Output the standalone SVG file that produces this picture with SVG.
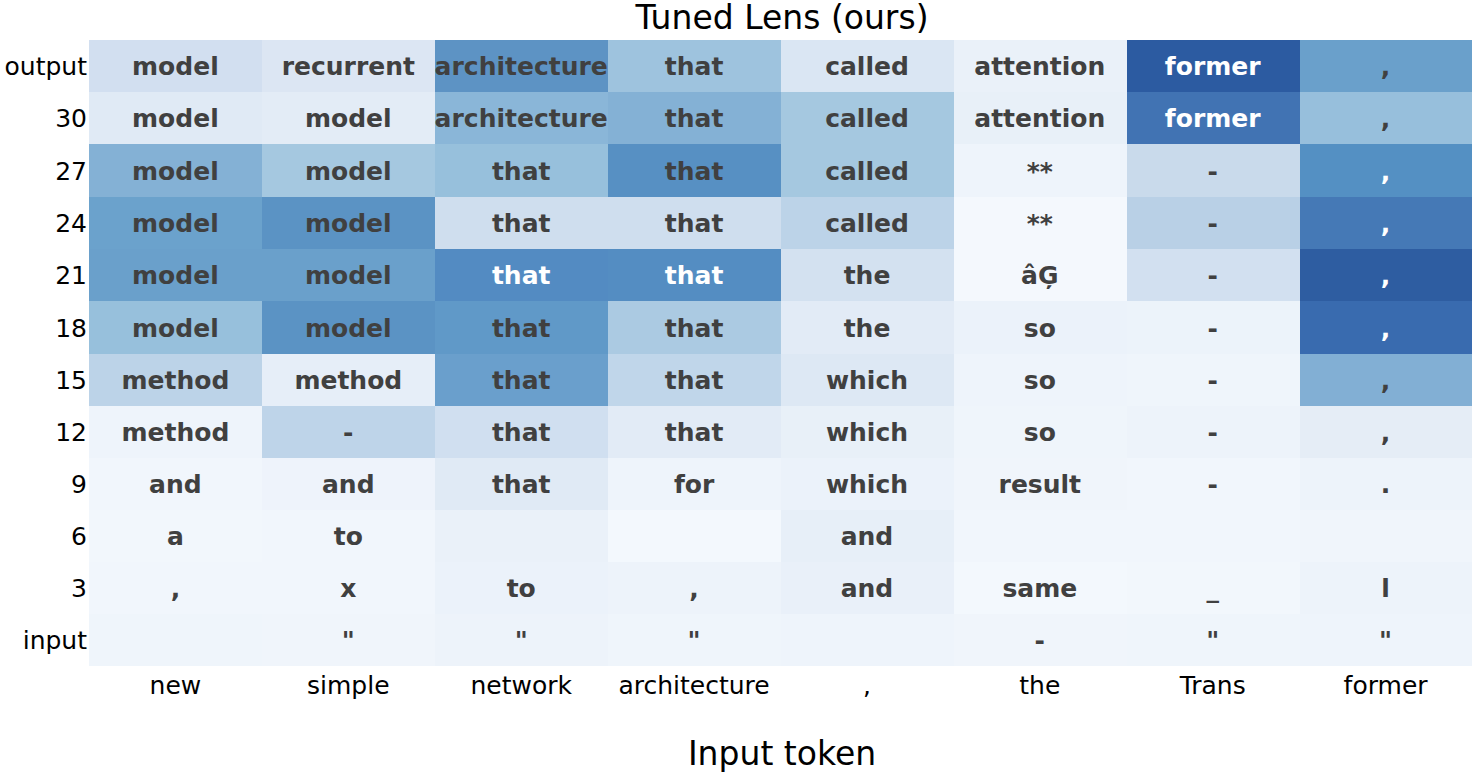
<svg xmlns="http://www.w3.org/2000/svg" width="1482" height="778" viewBox="0 0 1482 778">
<style>
text{font-family:"DejaVu Sans","Liberation Sans",sans-serif}
.c{font-size:25px;font-weight:bold;fill:#404040;text-anchor:middle}
.w{fill:#ffffff}
.yl{font-size:25px;fill:#000;text-anchor:end}
.xl{font-size:25px;fill:#000;text-anchor:middle}
.t{font-size:33px;fill:#000;text-anchor:middle}
</style>
<rect width="1482" height="778" fill="#ffffff"/>
<text class="t" x="782" y="29">Tuned Lens (ours)</text>
<g id="heatmap" shape-rendering="crispEdges">
<g id="row-output">
<rect x="89" y="40" width="173" height="53" fill="#d2dff0"/>
<rect x="262" y="40" width="173" height="53" fill="#dce6f3"/>
<rect x="435" y="40" width="173" height="53" fill="#5d93c4"/>
<rect x="608" y="40" width="173" height="53" fill="#9ec3de"/>
<rect x="781" y="40" width="173" height="53" fill="#dae6f3"/>
<rect x="954" y="40" width="173" height="53" fill="#eaf1f9"/>
<rect x="1127" y="40" width="173" height="53" fill="#2c5ba1"/>
<rect x="1300" y="40" width="172" height="53" fill="#6aa0cb"/>
</g>
<g id="row-30">
<rect x="89" y="92" width="173" height="53" fill="#e0eaf5"/>
<rect x="262" y="92" width="173" height="53" fill="#e3ecf6"/>
<rect x="435" y="92" width="173" height="53" fill="#8ab6d8"/>
<rect x="608" y="92" width="173" height="53" fill="#84b1d5"/>
<rect x="781" y="92" width="173" height="53" fill="#a5c8e0"/>
<rect x="954" y="92" width="173" height="53" fill="#e8f0f8"/>
<rect x="1127" y="92" width="173" height="53" fill="#4173b3"/>
<rect x="1300" y="92" width="172" height="53" fill="#97bfdc"/>
</g>
<g id="row-27">
<rect x="89" y="144" width="173" height="53" fill="#84b1d5"/>
<rect x="262" y="144" width="173" height="53" fill="#a5c8e0"/>
<rect x="435" y="144" width="173" height="53" fill="#97c0dc"/>
<rect x="608" y="144" width="173" height="53" fill="#5790c3"/>
<rect x="781" y="144" width="173" height="53" fill="#a5c8e0"/>
<rect x="954" y="144" width="173" height="53" fill="#eef4fb"/>
<rect x="1127" y="144" width="173" height="53" fill="#c9daeb"/>
<rect x="1300" y="144" width="172" height="53" fill="#5490c3"/>
</g>
<g id="row-24">
<rect x="89" y="197" width="173" height="53" fill="#6ba2cc"/>
<rect x="262" y="197" width="173" height="53" fill="#5b93c4"/>
<rect x="435" y="197" width="173" height="53" fill="#cfdeee"/>
<rect x="608" y="197" width="173" height="53" fill="#cfdeee"/>
<rect x="781" y="197" width="173" height="53" fill="#bcd3e8"/>
<rect x="954" y="197" width="173" height="53" fill="#f4f8fd"/>
<rect x="1127" y="197" width="173" height="53" fill="#b9d0e6"/>
<rect x="1300" y="197" width="172" height="53" fill="#4579b6"/>
</g>
<g id="row-21">
<rect x="89" y="249" width="173" height="53" fill="#6aa0cb"/>
<rect x="262" y="249" width="173" height="53" fill="#6aa0cb"/>
<rect x="435" y="249" width="173" height="53" fill="#538bc2"/>
<rect x="608" y="249" width="173" height="53" fill="#548dc2"/>
<rect x="781" y="249" width="173" height="53" fill="#d3e1f0"/>
<rect x="954" y="249" width="173" height="53" fill="#f4f8fd"/>
<rect x="1127" y="249" width="173" height="53" fill="#d2e0f0"/>
<rect x="1300" y="249" width="172" height="53" fill="#2e5da1"/>
</g>
<g id="row-18">
<rect x="89" y="301" width="173" height="53" fill="#97c0dc"/>
<rect x="262" y="301" width="173" height="53" fill="#5b93c4"/>
<rect x="435" y="301" width="173" height="53" fill="#6099c8"/>
<rect x="608" y="301" width="173" height="53" fill="#abcae2"/>
<rect x="781" y="301" width="173" height="53" fill="#e2ebf6"/>
<rect x="954" y="301" width="173" height="53" fill="#ebf2fa"/>
<rect x="1127" y="301" width="173" height="53" fill="#ecf3fa"/>
<rect x="1300" y="301" width="172" height="53" fill="#396baf"/>
</g>
<g id="row-15">
<rect x="89" y="354" width="173" height="53" fill="#bcd3e8"/>
<rect x="262" y="354" width="173" height="53" fill="#e6eef8"/>
<rect x="435" y="354" width="173" height="53" fill="#6a9fcc"/>
<rect x="608" y="354" width="173" height="53" fill="#c0d6ea"/>
<rect x="781" y="354" width="173" height="53" fill="#dde8f4"/>
<rect x="954" y="354" width="173" height="53" fill="#eef4fb"/>
<rect x="1127" y="354" width="173" height="53" fill="#eff5fb"/>
<rect x="1300" y="354" width="172" height="53" fill="#82afd4"/>
</g>
<g id="row-12">
<rect x="89" y="406" width="173" height="53" fill="#eef4fb"/>
<rect x="262" y="406" width="173" height="53" fill="#bed4e9"/>
<rect x="435" y="406" width="173" height="53" fill="#d0dff0"/>
<rect x="608" y="406" width="173" height="53" fill="#e2ebf6"/>
<rect x="781" y="406" width="173" height="53" fill="#e8f0f8"/>
<rect x="954" y="406" width="173" height="53" fill="#eff5fb"/>
<rect x="1127" y="406" width="173" height="53" fill="#edf3fa"/>
<rect x="1300" y="406" width="172" height="53" fill="#e5edf6"/>
</g>
<g id="row-9">
<rect x="89" y="458" width="173" height="53" fill="#f1f6fc"/>
<rect x="262" y="458" width="173" height="53" fill="#eef3fb"/>
<rect x="435" y="458" width="173" height="53" fill="#e0eaf5"/>
<rect x="608" y="458" width="173" height="53" fill="#eef4fb"/>
<rect x="781" y="458" width="173" height="53" fill="#ebf2fa"/>
<rect x="954" y="458" width="173" height="53" fill="#f0f5fb"/>
<rect x="1127" y="458" width="173" height="53" fill="#f1f6fc"/>
<rect x="1300" y="458" width="172" height="53" fill="#edf3fa"/>
</g>
<g id="row-6">
<rect x="89" y="510" width="173" height="53" fill="#f2f7fc"/>
<rect x="262" y="510" width="173" height="53" fill="#f1f6fc"/>
<rect x="435" y="510" width="173" height="53" fill="#eaf1f9"/>
<rect x="608" y="510" width="173" height="53" fill="#f3f8fd"/>
<rect x="781" y="510" width="173" height="53" fill="#e7eff8"/>
<rect x="954" y="510" width="173" height="53" fill="#f1f6fc"/>
<rect x="1127" y="510" width="173" height="53" fill="#f1f6fc"/>
<rect x="1300" y="510" width="172" height="53" fill="#f0f5fb"/>
</g>
<g id="row-3">
<rect x="89" y="562" width="173" height="53" fill="#f1f6fc"/>
<rect x="262" y="562" width="173" height="53" fill="#f1f6fc"/>
<rect x="435" y="562" width="173" height="53" fill="#ebf2fa"/>
<rect x="608" y="562" width="173" height="53" fill="#edf3fa"/>
<rect x="781" y="562" width="173" height="53" fill="#e9f0f9"/>
<rect x="954" y="562" width="173" height="53" fill="#f3f8fd"/>
<rect x="1127" y="562" width="173" height="53" fill="#f2f7fc"/>
<rect x="1300" y="562" width="172" height="53" fill="#edf3fa"/>
</g>
<g id="row-input">
<rect x="89" y="614" width="173" height="52" fill="#eff5fb"/>
<rect x="262" y="614" width="173" height="52" fill="#f0f5fb"/>
<rect x="435" y="614" width="173" height="52" fill="#edf3fa"/>
<rect x="608" y="614" width="173" height="52" fill="#eff5fb"/>
<rect x="781" y="614" width="173" height="52" fill="#eef4fb"/>
<rect x="954" y="614" width="173" height="52" fill="#f0f5fb"/>
<rect x="1127" y="614" width="173" height="52" fill="#eff5fb"/>
<rect x="1300" y="614" width="172" height="52" fill="#eef4fb"/>
</g>
</g>
<g id="cell-labels">
<g id="lab-output">
<text class="c" x="175.4" y="75">model</text>
<text class="c" x="348.3" y="75">recurrent</text>
<text class="c" x="521.2" y="75">architecture</text>
<text class="c" x="694.1" y="75">that</text>
<text class="c" x="867" y="75">called</text>
<text class="c" x="1039.8" y="75">attention</text>
<text class="c w" x="1212.7" y="75">former</text>
<text class="c" x="1385.6" y="75">,</text>
</g>
<g id="lab-30">
<text class="c" x="175.4" y="127">model</text>
<text class="c" x="348.3" y="127">model</text>
<text class="c" x="521.2" y="127">architecture</text>
<text class="c" x="694.1" y="127">that</text>
<text class="c" x="867" y="127">called</text>
<text class="c" x="1039.8" y="127">attention</text>
<text class="c w" x="1212.7" y="127">former</text>
<text class="c" x="1385.6" y="127">,</text>
</g>
<g id="lab-27">
<text class="c" x="175.4" y="180">model</text>
<text class="c" x="348.3" y="180">model</text>
<text class="c" x="521.2" y="180">that</text>
<text class="c" x="694.1" y="180">that</text>
<text class="c" x="867" y="180">called</text>
<text class="c" x="1039.8" y="180">**</text>
<text class="c" x="1212.7" y="180">-</text>
<text class="c w" x="1385.6" y="180">,</text>
</g>
<g id="lab-24">
<text class="c" x="175.4" y="232">model</text>
<text class="c" x="348.3" y="232">model</text>
<text class="c" x="521.2" y="232">that</text>
<text class="c" x="694.1" y="232">that</text>
<text class="c" x="867" y="232">called</text>
<text class="c" x="1039.8" y="232">**</text>
<text class="c" x="1212.7" y="232">-</text>
<text class="c w" x="1385.6" y="232">,</text>
</g>
<g id="lab-21">
<text class="c" x="175.4" y="284">model</text>
<text class="c" x="348.3" y="284">model</text>
<text class="c w" x="521.2" y="284">that</text>
<text class="c w" x="694.1" y="284">that</text>
<text class="c" x="867" y="284">the</text>
<text class="c" x="1039.8" y="284">âĢ</text>
<text class="c" x="1212.7" y="284">-</text>
<text class="c w" x="1385.6" y="284">,</text>
</g>
<g id="lab-18">
<text class="c" x="175.4" y="337">model</text>
<text class="c" x="348.3" y="337">model</text>
<text class="c" x="521.2" y="337">that</text>
<text class="c" x="694.1" y="337">that</text>
<text class="c" x="867" y="337">the</text>
<text class="c" x="1039.8" y="337">so</text>
<text class="c" x="1212.7" y="337">-</text>
<text class="c w" x="1385.6" y="337">,</text>
</g>
<g id="lab-15">
<text class="c" x="175.4" y="389">method</text>
<text class="c" x="348.3" y="389">method</text>
<text class="c" x="521.2" y="389">that</text>
<text class="c" x="694.1" y="389">that</text>
<text class="c" x="867" y="389">which</text>
<text class="c" x="1039.8" y="389">so</text>
<text class="c" x="1212.7" y="389">-</text>
<text class="c" x="1385.6" y="389">,</text>
</g>
<g id="lab-12">
<text class="c" x="175.4" y="441">method</text>
<text class="c" x="348.3" y="441">-</text>
<text class="c" x="521.2" y="441">that</text>
<text class="c" x="694.1" y="441">that</text>
<text class="c" x="867" y="441">which</text>
<text class="c" x="1039.8" y="441">so</text>
<text class="c" x="1212.7" y="441">-</text>
<text class="c" x="1385.6" y="441">,</text>
</g>
<g id="lab-9">
<text class="c" x="175.4" y="493">and</text>
<text class="c" x="348.3" y="493">and</text>
<text class="c" x="521.2" y="493">that</text>
<text class="c" x="694.1" y="493">for</text>
<text class="c" x="867" y="493">which</text>
<text class="c" x="1039.8" y="493">result</text>
<text class="c" x="1212.7" y="493">-</text>
<text class="c" x="1385.6" y="493">.</text>
</g>
<g id="lab-6">
<text class="c" x="175.4" y="545">a</text>
<text class="c" x="348.3" y="545">to</text>
<text class="c" x="867" y="545">and</text>
</g>
<g id="lab-3">
<text class="c" x="175.4" y="597">,</text>
<text class="c" x="348.3" y="597">x</text>
<text class="c" x="521.2" y="597">to</text>
<text class="c" x="694.1" y="597">,</text>
<text class="c" x="867" y="597">and</text>
<text class="c" x="1039.8" y="597">same</text>
<text class="c" x="1212.7" y="597">_</text>
<text class="c" x="1385.6" y="597">l</text>
</g>
<g id="lab-input">
<text class="c" x="348.3" y="649">"</text>
<text class="c" x="521.2" y="649">"</text>
<text class="c" x="694.1" y="649">"</text>
<text class="c" x="1039.8" y="649">-</text>
<text class="c" x="1212.7" y="649">"</text>
<text class="c" x="1385.6" y="649">"</text>
</g>
</g>
<g id="y-axis">
<text class="yl" x="87" y="75">output</text>
<text class="yl" x="87" y="127">30</text>
<text class="yl" x="87" y="180">27</text>
<text class="yl" x="87" y="232">24</text>
<text class="yl" x="87" y="284">21</text>
<text class="yl" x="87" y="337">18</text>
<text class="yl" x="87" y="389">15</text>
<text class="yl" x="87" y="441">12</text>
<text class="yl" x="87" y="493">9</text>
<text class="yl" x="87" y="545">6</text>
<text class="yl" x="87" y="597">3</text>
<text class="yl" x="87" y="649">input</text>
</g>
<g id="x-axis">
<text class="xl" x="175.4" y="694">new</text>
<text class="xl" x="348.3" y="694">simple</text>
<text class="xl" x="521.2" y="694">network</text>
<text class="xl" x="694.1" y="694">architecture</text>
<text class="xl" x="867" y="694">,</text>
<text class="xl" x="1039.8" y="694">the</text>
<text class="xl" x="1212.7" y="694">Trans</text>
<text class="xl" x="1385.6" y="694">former</text>
</g>
<text class="t" x="782" y="765">Input token</text>
</svg>
